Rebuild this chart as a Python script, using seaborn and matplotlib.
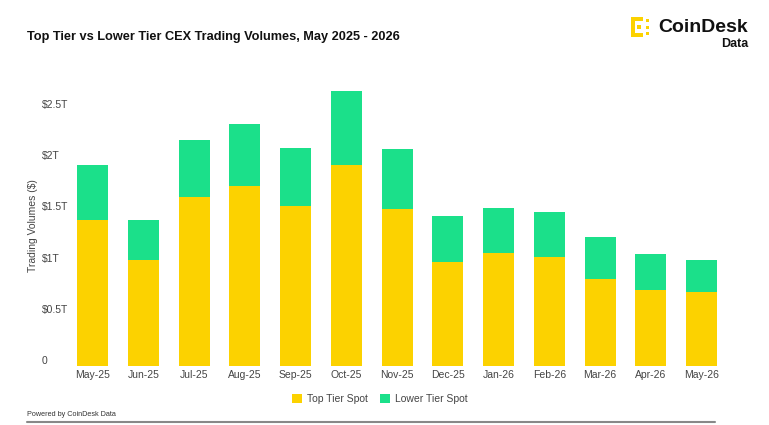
import matplotlib
matplotlib.use("Agg")
import matplotlib.pyplot as plt
from matplotlib.patches import Rectangle, Patch
from matplotlib.lines import Line2D
import seaborn as sns
import pandas as pd
import numpy as np

months = ["May-25", "Jun-25", "Jul-25", "Aug-25", "Sep-25", "Oct-25", "Nov-25",
          "Dec-25", "Jan-26", "Feb-26", "Mar-26", "Apr-26", "May-26"]
top_tier = [1.43, 1.04, 1.65, 1.76, 1.56, 1.96, 1.53, 1.02, 1.10, 1.06, 0.85, 0.74, 0.72]
lower_tier = [0.53, 0.39, 0.56, 0.60, 0.57, 0.73, 0.59, 0.44, 0.44, 0.44, 0.41, 0.35, 0.32]
ytick_vals = [0, 0.5, 1, 1.5, 2, 2.5]
ytick_labels = ["0", "$0.5T", "$1T", "$1.5T", "$2T", "$2.5T"]

YELLOW = "#FCD200"
GREEN = "#1BE08A"
TXT = "#444444"

sns.set_theme(style="white")
plt.rcParams["font.family"] = ["Liberation Sans", "DejaVu Sans"]

df = pd.DataFrame({"month": months, "top": top_tier, "lower": lower_tier})
df["total"] = df["top"] + df["lower"]

W, H = 769, 425
fig = plt.figure(figsize=(W / 100, H / 100), dpi=100)
fig.patch.set_facecolor("white")
ax = fig.add_axes([67.3 / W, (H - 366) / H, (727 - 67.3) / W, (366 - 84.4) / H])

sns.barplot(data=df, x="month", y="total", color=GREEN, width=0.61, saturation=1,
            ax=ax, edgecolor="none", linewidth=0)
sns.barplot(data=df, x="month", y="top", color=YELLOW, width=0.61, saturation=1,
            ax=ax, edgecolor="none", linewidth=0)

ax.set_xlim(-0.5, len(months) - 0.5)
ax.set_ylim(0, 2.75)
for s in ax.spines.values():
    s.set_visible(False)
ax.set_xlabel("")
ax.set_ylabel("Trading Volumes ($)", fontsize=7.5, color=TXT)
ax.yaxis.label.set_verticalalignment("center")
ax.yaxis.set_label_coords(-(67.3 - 33) / (727 - 67.3), 0.5)
ax.set_yticks(ytick_vals)
ax.set_yticklabels(ytick_labels)
ax.tick_params(axis="y", length=0, pad=18.5, labelsize=7.5, labelcolor=TXT)
for lab in ax.get_yticklabels():
    lab.set_horizontalalignment("left")
    lab.set_verticalalignment("bottom")
ax.tick_params(axis="x", length=0, pad=3, labelsize=7.5, labelcolor=TXT)
ax.grid(False)

# Title
title = fig.text(27 / W, 1 - 37 / H, "Top Tier vs Lower Tier CEX Trading Volumes, May 2025 - 2026",
                 fontsize=11, fontweight="bold", color="#111111", va="center", ha="left")
fig.canvas.draw()
bb = title.get_window_extent()
title.set_fontsize(11 * (373 / bb.width))

# Logo
fig.text(748 / W, 1 - 27 / H, "CoinDesk", fontsize=14, fontweight="bold", color="#111111",
         ha="right", va="center")
fig.text(748 / W, 1 - 44 / H, "Data", fontsize=9, fontweight="bold", color="#111111",
         ha="right", va="center")
for (x0, y0, w, h) in [(631, 17, 4, 20), (631, 17, 12, 4), (631, 33, 12, 4),
                       (637, 25, 4, 4), (646, 19, 3, 3), (646, 26, 3, 3), (646, 32, 3, 3)]:
    fig.patches.append(Rectangle((x0 / W, 1 - (y0 + h) / H), w / W, h / H,
                                 transform=fig.transFigure, facecolor=YELLOW, edgecolor="none"))

# Legend
handles = [Patch(facecolor=YELLOW, edgecolor="none", label="Top Tier Spot"),
           Patch(facecolor=GREEN, edgecolor="none", label="Lower Tier Spot")]
leg = fig.legend(handles=handles, loc="center", bbox_to_anchor=(380 / W, 1 - 399 / H),
                 ncol=2, frameon=False, fontsize=7.5, handlelength=0.9, handleheight=0.9,
                 handletextpad=0.5, columnspacing=1.2)
for t in leg.get_texts():
    t.set_color(TXT)

# Footer
fig.text(27 / W, 1 - 414 / H, "Powered by CoinDesk Data", fontsize=5.2, color="#333333",
         ha="left", va="center")
fig.lines.append(Line2D([27 / W, 715 / W], [1 - 421.7 / H, 1 - 421.7 / H],
                        transform=fig.transFigure, color="#888888", lw=1.5))

fig.savefig("out.png", dpi=100, facecolor="white")
